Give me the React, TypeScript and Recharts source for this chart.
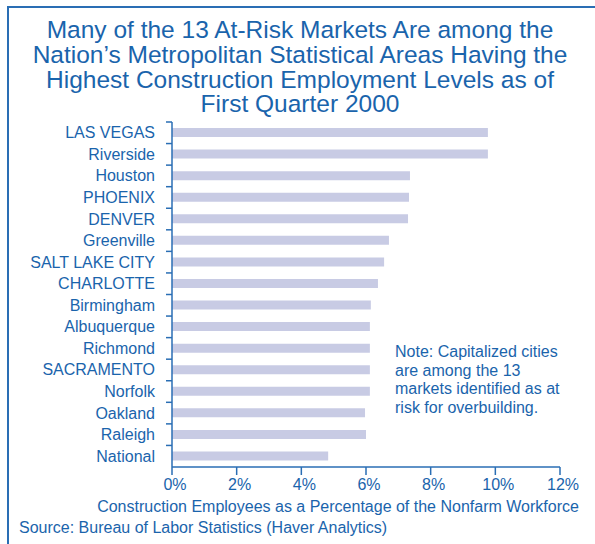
import { Bar, BarChart, XAxis, YAxis } from "recharts";

const cities = [
  "LAS VEGAS",
  "Riverside",
  "Houston",
  "PHOENIX",
  "DENVER",
  "Greenville",
  "SALT LAKE CITY",
  "CHARLOTTE",
  "Birmingham",
  "Albuquerque",
  "Richmond",
  "SACRAMENTO",
  "Norfolk",
  "Oakland",
  "Raleigh",
  "National",
];

const shares = [9.77, 9.77, 7.36, 7.33, 7.3, 6.71, 6.56, 6.37, 6.15, 6.12, 6.12, 6.12, 6.12, 5.97, 6.0, 4.83];

const xTicks = [0, 2, 4, 6, 8, 10, 12];

const data = cities.map((city, i) => ({ city, share: shares[i] }));

const BLUE = "#1a64ac";
const AXIS = "#2a6eb4";
const BAR = "#c8cbe4";
const FONT = "'Liberation Sans', Arial, sans-serif";

const TOP = 122;
const BOTTOM = 467;
const BAND = (BOTTOM - TOP) / cities.length;

function CityTick(props: any) {
  const { y, payload } = props;
  return (
    <g>
      <line x1={166} x2={172} y1={y - BAND / 2} y2={y - BAND / 2} stroke={AXIS} strokeWidth={1.5} />
      <text x={155} y={y} dy={5.5} textAnchor="end" fill={BLUE} fontSize={16} fontFamily={FONT}>
        {payload.value}
      </text>
    </g>
  );
}

function PctTick(props: any) {
  const { x, y, payload } = props;
  return (
    <text x={x + 3} y={y} dy={13} textAnchor="middle" fill={BLUE} fontSize={16} fontFamily={FONT}>
      {`${payload.value}%`}
    </text>
  );
}

export default function App() {
  return (
    <div style={{ position: "absolute", left: 0, top: 0, width: 595, height: 544, background: "#fff", overflow: "hidden", fontFamily: FONT }}>
      <div
        style={{
          position: "absolute",
          left: 7,
          top: 6,
          width: 620,
          height: 580,
          borderTop: `2px solid ${AXIS}`,
          borderLeft: `2px solid ${AXIS}`,
        }}
      />
      <div
        style={{
          position: "absolute",
          left: 0,
          top: 18,
          width: 600,
          textAlign: "center",
          color: BLUE,
          fontSize: 24.5,
          lineHeight: "24.8px",
        }}
      >
        Many of the 13 At-Risk Markets Are among the
        <br />
        Nation’s Metropolitan Statistical Areas Having the
        <br />
        Highest Construction Employment Levels as of
        <br />
        First Quarter 2000
      </div>
      <div style={{ position: "absolute", left: 0, top: 0 }}>
        <BarChart
          width={595}
          height={544}
          data={data}
          layout="vertical"
          margin={{ top: TOP, right: 35, bottom: 47, left: 0 }}
          barSize={9}
        >
          <XAxis
            type="number"
            domain={[0, 12]}
            ticks={xTicks}
            stroke={AXIS}
            strokeWidth={1.5}
            tickSize={8}
            tickMargin={2}
            height={30}
            tick={<PctTick />}
            interval={0}
          />
          <YAxis
            type="category"
            dataKey="city"
            width={172}
            stroke={AXIS}
            strokeWidth={1.5}
            tickLine={false}
            interval={0}
            tick={<CityTick />}
          />
          <Bar dataKey="share" fill={BAR} isAnimationActive={false} />
        </BarChart>
      </div>
      <div style={{ position: "absolute", left: 0, width: 676, top: 498, textAlign: "center", color: BLUE, fontSize: 16 }}>
        Construction Employees as a Percentage of the Nonfarm Workforce
      </div>
      <div style={{ position: "absolute", left: 19, top: 519, color: BLUE, fontSize: 16 }}>
        Source: Bureau of Labor Statistics (Haver Analytics)
      </div>
      <div style={{ position: "absolute", left: 395, top: 343, color: BLUE, fontSize: 16, lineHeight: "18.6px" }}>
        Note: Capitalized cities
        <br />
        are among the 13
        <br />
        markets identified as at
        <br />
        risk for overbuilding.
      </div>
    </div>
  );
}
